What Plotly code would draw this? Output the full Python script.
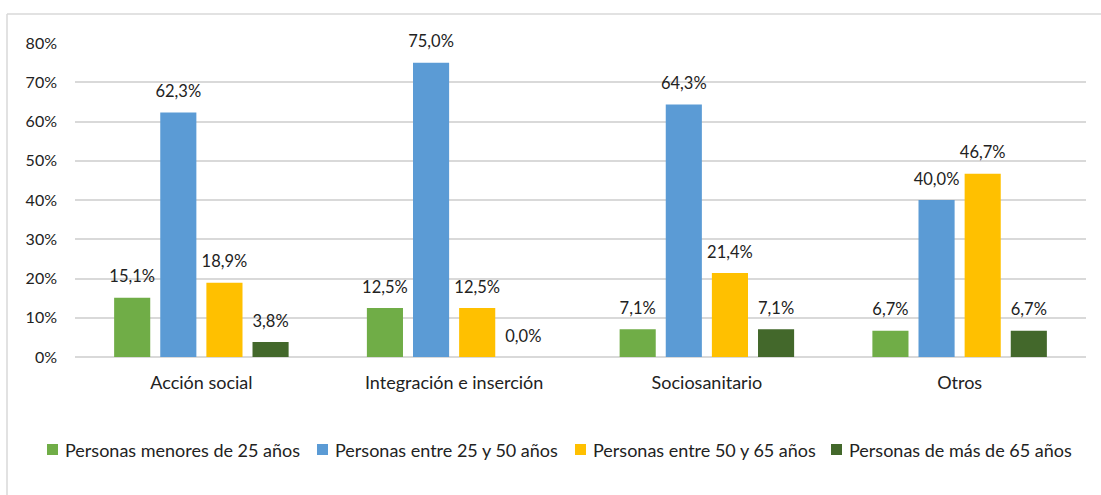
import plotly.graph_objects as go

# Distribución por tramo de edad en cada ámbito de actuación (%)
categorias = ["Acción social", "Integración e inserción", "Sociosanitario", "Otros"]
series = [
    "Personas menores de 25 años",
    "Personas entre 25 y 50 años",
    "Personas entre 50 y 65 años",
    "Personas de más de 65 años",
]
menores_25 = [15.1, 12.5, 7.1, 6.7]
entre_25_50 = [62.3, 75.0, 64.3, 40.0]
entre_50_65 = [18.9, 12.5, 21.4, 46.7]
mas_65 = [3.8, 0.0, 7.1, 6.7]
ticks_y = [0, 10, 20, 30, 40, 50, 60, 70, 80]
ticks_y_txt = ["0%", "10%", "20%", "30%", "40%", "50%", "60%", "70%", "80%"]

valores = [menores_25, entre_25_50, entre_50_65, mas_65]
colores = ["#70AD47", "#5B9BD5", "#FFC000", "#43682B"]

FUENTE = "Lato"
TEXTO = "#222222"

W, H = 1101, 495
ML, MR, MT, MB = 75, 15, 43, 138
PW, PH = W - ML - MR, H - MT - MB


def px_x(x):
    """Pixel horizontal -> coordenada paper."""
    return (x - ML) / PW


def px_y(y):
    """Pixel vertical -> coordenada paper."""
    return (H - MB - y) / PH


fig = go.Figure()
for nombre, vals, color in zip(series, valores, colores):
    fig.add_trace(go.Bar(
        name=nombre,
        x=categorias,
        y=vals,
        marker=dict(color=color, line=dict(width=0)),
        # la línea vacía final separa la etiqueta de la barra
        texttemplate="<span style='font-size:16.5px'>%{y:.1f}%</span><br> ",
        textposition="outside",
        constraintext="none",
        textfont=dict(family=FUENTE, size=8, color=TEXTO),
        cliponaxis=False,
        showlegend=False,
    ))

# Leyenda dibujada a mano: cuadro de color + texto
legend_sq = [47, 317, 575, 831]
legend_txt = [63, 333, 591, 847]
shapes = []
annotations = []
for nombre, color, xs, xt in zip(series, colores, legend_sq, legend_txt):
    shapes.append(dict(type="rect", xref="paper", yref="paper",
                       x0=px_x(xs), x1=px_x(xs + 11),
                       y0=px_y(455), y1=px_y(444),
                       fillcolor=color, line=dict(width=0)))
    annotations.append(dict(text=nombre, xref="paper", yref="paper",
                            x=px_x(xt), y=px_y(449.5),
                            xanchor="left", yanchor="middle",
                            showarrow=False,
                            font=dict(family=FUENTE, size=18, color=TEXTO)))

# marco exterior del gráfico
shapes.append(dict(type="line", xref="paper", yref="paper",
                   x0=px_x(7), x1=px_x(W + 5), y0=px_y(14), y1=px_y(14),
                   line=dict(color="#D9D9D9", width=1.5)))
shapes.append(dict(type="line", xref="paper", yref="paper",
                   x0=px_x(7), x1=px_x(7), y0=px_y(14), y1=px_y(H + 5),
                   line=dict(color="#D9D9D9", width=1.5)))

fig.update_layout(
    width=W,
    height=H,
    barmode="group",
    bargap=0.27,
    bargroupgap=0.217,
    separators=",.",
    paper_bgcolor="white",
    plot_bgcolor="white",
    margin=dict(l=ML, r=MR, t=MT, b=MB),
    font=dict(family=FUENTE, size=16, color=TEXTO),
    showlegend=False,
    xaxis=dict(
        showgrid=False,
        showline=False,
        ticks="",
        tickfont=dict(family=FUENTE, size=18, color=TEXTO),
        ticklabelstandoff=13,
    ),
    yaxis=dict(
        range=[0, 80],
        tickvals=ticks_y,
        ticktext=ticks_y_txt,
        showgrid=True,
        gridcolor="#D9D9D9",
        gridwidth=1.5,
        zeroline=True,
        zerolinecolor="#D9D9D9",
        zerolinewidth=1.5,
        showline=False,
        ticks="",
        tickfont=dict(family=FUENTE, size=16, color=TEXTO),
        ticklabelstandoff=17,
    ),
    shapes=shapes,
    annotations=annotations,
)

fig.write_html("out.html")
